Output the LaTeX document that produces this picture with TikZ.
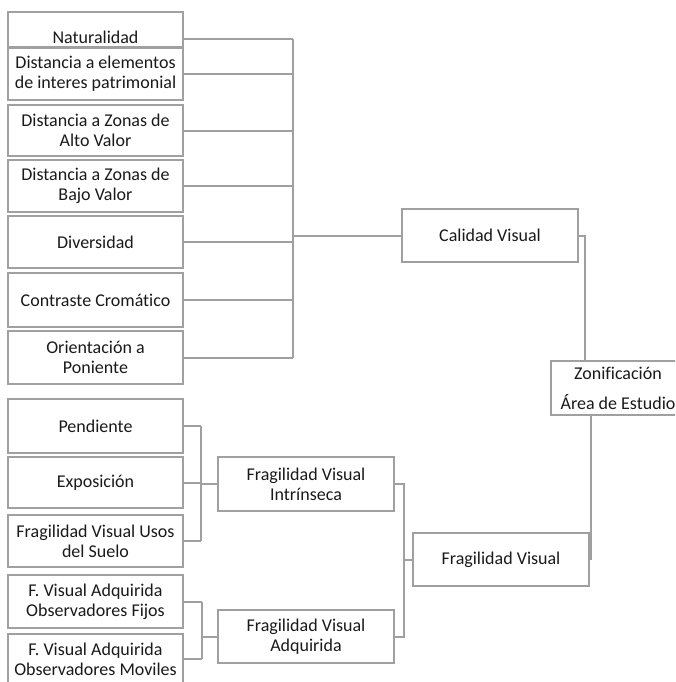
\documentclass[tikz,border=0pt]{standalone}
\usepackage{fontspec}
\setmainfont{Carlito}[Ligatures={NoCommon,NoRequired,NoContextual}, RawFeature={-liga;-dlig;-clig}]
\definecolor{linegray}{HTML}{A0A0A0}
\definecolor{textblack}{HTML}{1A1A1A}
\tikzset{
  box/.style={draw=linegray, line width=2pt, fill=white, inner sep=0pt,
    align=center, text=textblack, font=\fontsize{18}{20}\selectfont},
  leftbox/.style={box, minimum width=175pt},
  midbox/.style={box, minimum width=176pt},
  txt/.style={inner sep=0pt, text=textblack, font=\fontsize{18}{20}\selectfont},
  link/.style={draw=linegray, line width=2pt}
}
\begin{document}
\begin{tikzpicture}[x=1pt, y=-1pt]
\useasboundingbox (0,0) rectangle (675,682);
\clip (0,0) rectangle (675,682);
\fill[white] (0,0) rectangle (675,682);

% criteria of visual quality
\node[leftbox, minimum height=35pt] (nat) at (95.5,29.5) {};
\node[txt] (natT) at (95.5,37) {Naturalidad};
\node[leftbox, minimum height=52pt] (dis) at (95.5,74) {Distancia a elementos\\de interes patrimonial};
\node[leftbox, minimum height=51pt] (alto) at (95.5,130.5) {Distancia a Zonas de\\Alto Valor};
\node[leftbox, minimum height=52pt] (bajo) at (95.5,186) {Distancia a Zonas de\\Bajo Valor};
\node[leftbox, minimum height=52pt] (div) at (95.5,242) {Diversidad};
\node[leftbox, minimum height=54pt] (con) at (95.5,300) {Contraste Cromático};
\node[leftbox, minimum height=53pt] (ori) at (95.5,357.5) {Orientación a\\Poniente};

% criteria of visual fragility
\node[leftbox, minimum height=54pt] (pen) at (95.5,426) {Pendiente};
\node[leftbox, minimum height=51pt] (exp) at (95.5,482.5) {Exposición};
\node[leftbox, minimum height=52pt] (uso) at (95.5,541) {Fragilidad Visual Usos\\del Suelo};
\node[leftbox, minimum height=53pt] (fij) at (95.5,601.5) {F. Visual Adquirida\\Observadores Fijos};
\node[leftbox, minimum height=51pt] (mov) at (95.5,659) {F. Visual Adquirida\\Observadores Moviles};

% intermediate and final results
\node[midbox, minimum height=54pt] (int) at (306,484) {Fragilidad Visual\\Intrínseca};
\node[midbox, minimum height=53pt] (adq) at (306,636.5) {Fragilidad Visual\\Adquirida};
\node[midbox, minimum height=53pt] (fra) at (501,559.5) {Fragilidad Visual};
\node[midbox, minimum height=53pt] (cal) at (490,235.5) {Calidad Visual};
% the zoning box runs past the right edge; its text stays centred at x=618
\node[box, minimum width=150pt, minimum height=54pt] (zon) at (626,388)
  {\hspace*{-16pt}Zonificación\\[10pt]\hspace*{-16pt}Área de Estudio};

% visual quality tree
\coordinate (sq) at (293,0);
\draw[link] ([yshift=-9.5pt]nat.east) -- ([yshift=-9.5pt]nat.east -| sq);
\foreach \b in {dis,alto,bajo,div,con,ori}
  \draw[link] (\b.east) -- (\b.east -| sq);
\draw[link] ([yshift=-9.5pt]nat.east -| sq) -- (ori.east -| sq);
\draw[link] (cal.west -| sq) -- (cal.west);

% intrinsic fragility tree
\coordinate (si) at (201,0);
\foreach \b in {pen,exp,uso}
  \draw[link] (\b.east) -- (\b.east -| si);
\draw[link] (pen.east -| si) -- (uso.east -| si);
\draw[link] (int.west -| si) -- (int.west);

% acquired fragility tree
\coordinate (sa) at (202,0);
\foreach \b in {fij,mov}
  \draw[link] (\b.east) -- (\b.east -| sa);
\draw[link] (fij.east -| sa) -- (mov.east -| sa);
\draw[link] (adq.west -| sa) -- (adq.west);

% visual fragility
\coordinate (sf) at (404,0);
\draw[link] (int.east) -| (sf |- fra.west) -- (fra.west);
\draw[link] (adq.east) -| (sf |- fra.west);

% toward the zoning
\draw[link] (cal.east) -- ++(6,0) coordinate (ck) -- (ck |- zon.north);
\draw[link] ([xshift=1pt]zon.south -| fra.east) -- ([xshift=1pt]fra.east);
\end{tikzpicture}
\end{document}
